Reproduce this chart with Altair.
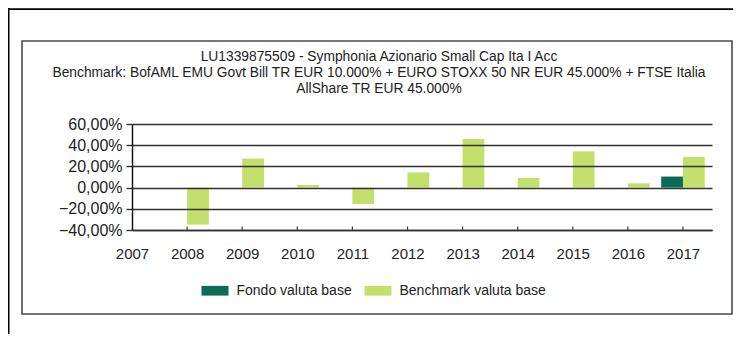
import altair as alt
import pandas as pd

years = [2007, 2008, 2009, 2010, 2011, 2012, 2013, 2014, 2015, 2016, 2017]
fund = [None, None, None, None, None, None, None, None, None, None, 10.4]
benchmark = [None, -34.9, 27.4, 2.5, -15.5, 14.4, 45.8, 9.1, 34.2, 4.0, 28.9]
series_names = ["Fondo valuta base", "Benchmark valuta base"]
series_colors = ["#0b6b55", "#c3df6c"]
y_ticks = [-40, -20, 0, 20, 40, 60]
title_lines = [
    "LU1339875509 - Symphonia Azionario Small Cap Ita I Acc",
    "Benchmark: BofAML EMU Govt Bill TR EUR 10.000% + EURO STOXX 50 NR EUR 45.000% + FTSE Italia",
    "AllShare TR EUR 45.000%",
]

rows = []
for y, f, b in zip(years, fund, benchmark):
    if f is not None:
        rows.append({"year": y, "series": series_names[0], "value": f, "side": -1})
    if b is not None:
        rows.append({"year": y, "series": series_names[1], "value": b, "side": 0})
df = pd.DataFrame(rows)
tick_df = pd.DataFrame({"year": years[1:]})

FONT = "Liberation Sans"
W, H = 580, 106
BAR = 0.395

xscale = alt.Scale(domain=[2007, 2017.527], nice=False, zero=False)
yscale = alt.Scale(domain=[-40, 60], nice=False)

# decorative frames (outer page frame and chart panel)
frame_df = pd.DataFrame({"k": [0]})
panel = alt.Chart(frame_df).mark_rect(fill="white", stroke="#4a4a4a", strokeWidth=1.6).encode(
    x=alt.value(-110), x2=alt.value(600), y=alt.value(-83), y2=alt.value(190)
)
outer_top = alt.Chart(frame_df).mark_rect(fill="black").encode(
    x=alt.value(-124), x2=alt.value(601), y=alt.value(-115.7), y2=alt.value(-114)
)
outer_left = alt.Chart(frame_df).mark_rect(fill="black").encode(
    x=alt.value(-124), x2=alt.value(-122.5), y=alt.value(-116), y2=alt.value(212)
)

title_ys = [-67.5, -51.5, -35]
title_layers = [
    alt.Chart(frame_df).mark_text(
        font=FONT, fontSize=13.8, color="#222", align="center", baseline="middle"
    ).encode(x=alt.value(247), y=alt.value(ty), text=alt.value(t))
    for t, ty in zip(title_lines, title_ys)
]

bars = alt.Chart(df).transform_calculate(
    x0=f"datum.year + datum.side * {BAR}",
    x1=f"datum.year + datum.side * {BAR} + {BAR}",
).mark_bar().encode(
    x=alt.X("x0:Q", scale=xscale, axis=alt.Axis(
        values=years, format="d", title=None, grid=False, tickSize=0,
        labelFlush=False,
        labelFontSize=15, labelPadding=16, labelColor="#222", labelFont=FONT,
        domainColor="#333", domainWidth=1.5, zindex=1,
    )),
    x2="x1:Q",
    y=alt.Y("value:Q", scale=yscale, axis=alt.Axis(
        values=y_ticks, title=None, grid=True, gridColor="#333333", gridWidth=1.4,
        tickSize=6, tickColor="#333333", tickWidth=1.4,
        labelExpr="replace(format(datum.value, '.2f'), '.', ',') + '%'",
        labelFontSize=16, labelPadding=4, labelColor="#222", labelFont=FONT,
        domainColor="#111", domainWidth=1.5, zindex=1,
    )),
    y2=alt.datum(0),
    color=alt.Color("series:N", scale=alt.Scale(domain=series_names, range=series_colors),
                    legend=alt.Legend(
                        title=None, orient="none", direction="horizontal",
                        legendX=69.5, legendY=153,
                        symbolType="M-1,-0.36H1V0.36H-1Z", symbolSize=729,
                        symbolStrokeWidth=0, symbolOpacity=1,
                        labelFontSize=14, labelFont=FONT, labelColor="#222",
                        labelOffset=8, columnPadding=12,
                    )),
)

xticks = alt.Chart(tick_df).mark_rule(color="#3a3a3a", strokeWidth=1.2).encode(
    x=alt.X("year:Q", scale=xscale), y=alt.value(102.5), y2=alt.value(106)
)

chart = alt.layer(panel, outer_top, outer_left, *title_layers, bars, xticks).properties(
    width=W, height=H,
    padding={"left": 124, "top": 116, "right": 21, "bottom": 104},
    autosize=alt.AutoSizeParams(type="none"),
).configure_view(stroke=None).configure(background="white")

chart.save("out.html", embed_options={"renderer": "svg", "actions": False})
